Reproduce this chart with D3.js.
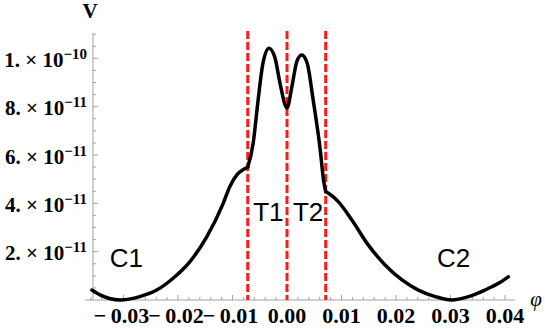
<!DOCTYPE html>
<html>
<head>
<meta charset="utf-8">
<script src="https://cdn.jsdelivr.net/npm/d3@7"></script>
<style>
  body { margin: 0; background: #fff; }
</style>
</head>
<body>
<script>
// curve (phi, V)
var phi = [-0.0358, -0.0343, -0.0306, -0.0270, -0.0239, -0.0209, -0.0178, -0.0147, -0.0117, -0.0105,
           -0.0092, -0.0080, -0.0072, -0.0062, -0.0053, -0.0044, -0.0033, -0.0022, -0.0013, 0.0000,
           0.0009, 0.0018, 0.0027, 0.0037, 0.0048, 0.0061, 0.0067, 0.0071, 0.0076, 0.0094,
           0.0119, 0.0149, 0.0180, 0.0211, 0.0241, 0.0272, 0.0302, 0.0333, 0.0363, 0.0388, 0.0406];
var potential = [0.41e-11, 0.21e-11, 0.00, 0.14e-11, 0.41e-11, 0.90e-11, 1.59e-11, 2.62e-11, 4.00e-11, 4.69e-11,
                 5.18e-11, 5.40e-11, 5.50e-11, 6.50e-11, 8.28e-11, 9.81e-11, 10.42e-11, 10.02e-11, 8.99e-11, 7.95e-11,
                 8.83e-11, 9.87e-11, 10.14e-11, 9.80e-11, 8.28e-11, 6.21e-11, 4.97e-11, 4.48e-11, 4.42e-11, 4.07e-11,
                 3.31e-11, 2.28e-11, 1.45e-11, 0.83e-11, 0.41e-11, 0.14e-11, 0.00, 0.14e-11, 0.41e-11, 0.69e-11, 0.96e-11];

var boundaries = [-0.0072, 0.0, 0.0071];   // red dashed lines
var xTicks = [-0.03, -0.02, -0.01, 0.00, 0.01, 0.02, 0.03, 0.04];
var xTickLabels = ["\u2212\u20090.03", "\u2212\u20090.02", "\u2212\u20090.01", "0.00", "0.01", "0.02", "0.03", "0.04"];
var yTicks = [2e-11, 4e-11, 6e-11, 8e-11, 1e-10];
var yTickMant = ["2.", "4.", "6.", "8.", "1."];
var yTickExp = ["\u221211", "\u221211", "\u221211", "\u221211", "\u221210"];
var regionLabels = ["C1", "T1", "T2", "C2"];
var regionPhi = [-0.0325, -0.0062, 0.0011, 0.0275];
var regionV = [1.35e-11, 3.25e-11, 3.25e-11, 1.35e-11];

var width = 545, height = 329;
var svg = d3.select("body").append("svg")
    .attr("width", width)
    .attr("height", height);

var x = d3.scaleLinear().domain([-0.03706, 0.04183]).range([85, 515]);
var y = d3.scaleLinear().domain([0, 1.105e-10]).range([300, 33]);
var axisColor = "#a0a0a0";
var yAxisPhi = -0.0356;
var ax = x(yAxisPhi);

// x axis
svg.append("line")
    .attr("x1", x.range()[0]).attr("x2", x.range()[1])
    .attr("y1", y(0)).attr("y2", y(0))
    .attr("stroke", axisColor).attr("stroke-width", 1);

d3.range(-18, 21).forEach(function(i) {
  var v = i * 0.002;
  var major = i % 5 === 0;
  svg.append("line")
      .attr("x1", x(v)).attr("x2", x(v))
      .attr("y1", y(0)).attr("y2", y(0) - (major ? 5 : 3))
      .attr("stroke", axisColor).attr("stroke-width", 1);
});

svg.selectAll(".xlab")
  .data(xTicks)
  .enter().append("text")
    .attr("class", "xlab")
    .attr("x", function(d) { return x(d) + (d < 0 ? -2 : 0); })
    .attr("y", 323)
    .attr("text-anchor", "middle")
    .attr("font-family", "Liberation Serif")
    .attr("font-weight", "bold")
    .attr("font-size", 22)
    .text(function(d, i) { return xTickLabels[i]; });

// y axis
svg.append("line")
    .attr("x1", ax).attr("x2", ax)
    .attr("y1", y(0)).attr("y2", y.range()[1])
    .attr("stroke", axisColor).attr("stroke-width", 1);

d3.range(1, 23).forEach(function(i) {
  var v = i * 0.5e-11;
  var major = i % 4 === 0;
  svg.append("line")
      .attr("x1", ax).attr("x2", ax + (major ? 5 : 3))
      .attr("y1", y(v)).attr("y2", y(v))
      .attr("stroke", axisColor).attr("stroke-width", 1);
});

var ylab = svg.selectAll(".ylab")
  .data(yTicks)
  .enter().append("text")
    .attr("class", "ylab")
    .attr("x", ax - 6)
    .attr("y", function(d) { return y(d) + 8.5; })
    .attr("text-anchor", "end")
    .attr("font-family", "Liberation Serif")
    .attr("font-weight", "bold")
    .attr("font-size", 21);
ylab.append("tspan").text(function(d, i) { return yTickMant[i] + " \u00d7 10"; });
ylab.append("tspan")
    .attr("font-size", 15)
    .attr("dy", -8)
    .text(function(d, i) { return yTickExp[i]; });

// axis names
svg.append("text")
    .attr("x", 90).attr("y", 18)
    .attr("text-anchor", "middle")
    .attr("font-family", "Liberation Serif")
    .attr("font-weight", "bold")
    .attr("font-size", 21)
    .text("V");

svg.append("text")
    .attr("x", 536).attr("y", 306)
    .attr("text-anchor", "middle")
    .attr("font-family", "Liberation Serif")
    .attr("font-style", "italic")
    .attr("font-size", 21)
    .text("\u03c6");

// red dashed boundaries
svg.selectAll(".bound")
  .data(boundaries)
  .enter().append("line")
    .attr("class", "bound")
    .attr("x1", function(d) { return x(d); })
    .attr("x2", function(d) { return x(d); })
    .attr("y1", 31).attr("y2", y(0))
    .attr("stroke", "#ff1a1a")
    .attr("stroke-width", 3)
    .attr("stroke-dasharray", "8,3");

// curve, split at the kinks on the outer boundaries
var pts = phi.map(function(p, i) { return [p, potential[i]]; });
var segs = [
  pts.filter(function(d) { return d[0] <= boundaries[0]; }),
  pts.filter(function(d) { return d[0] >= boundaries[0] && d[0] <= boundaries[2]; }),
  pts.filter(function(d) { return d[0] >= boundaries[2]; })
];
var line = d3.line()
    .x(function(d) { return x(d[0]); })
    .y(function(d) { return y(d[1]); })
    .curve(d3.curveMonotoneX);

svg.selectAll(".seg")
  .data(segs)
  .enter().append("path")
    .attr("class", "seg")
    .attr("d", line)
    .attr("fill", "none")
    .attr("stroke", "#000")
    .attr("stroke-width", 3.5)
    .attr("stroke-linecap", "round")
    .attr("stroke-linejoin", "round");

// region labels
svg.selectAll(".reg")
  .data(regionLabels)
  .enter().append("text")
    .attr("class", "reg")
    .attr("x", function(d, i) { return x(regionPhi[i]); })
    .attr("y", function(d, i) { return y(regionV[i]); })
    .attr("font-family", "Liberation Sans")
    .attr("font-size", 26)
    .text(function(d) { return d; });
</script>
</body>
</html>
